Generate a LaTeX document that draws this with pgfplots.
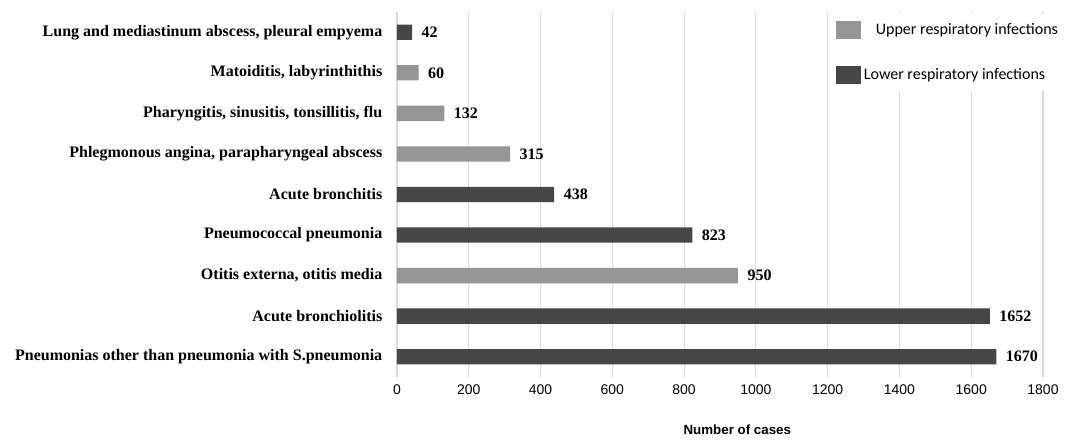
\documentclass[border=0pt]{standalone}
\usepackage{pgfplots}
\pgfplotsset{compat=1.18}
\usepackage{fontspec}
\setmainfont{Liberation Serif}
\setsansfont{Liberation Sans}
\newfontfamily\legfont{Carlito}
\definecolor{upper}{RGB}{150,150,150}
\definecolor{lower}{RGB}{70,70,70}
\definecolor{gridc}{RGB}{217,217,217}
\begin{document}
\begin{tikzpicture}[x=1pt,y=1pt]
\begin{axis}[
  scale only axis,
  width=484.5pt, height=273.75pt,
  xbar, bar width=11.5pt, bar shift=0pt,
  xmin=0, xmax=1800,
  ymin=-0.5, ymax=8.5,
  xtick={0,200,...,1800},
  ytick={0,...,8},
  yticklabels={Pneumonias other than pneumonia with S.pneumonia,
    Acute bronchiolitis, {Otitis externa, otitis media}, Pneumococcal pneumonia\hspace{3pt},
    Acute bronchitis, {Phlegmonous angina, parapharyngeal abscess},
    {Pharyngitis, sinusitis, tonsillitis, flu}, {Matoiditis, labyrinthithis\hspace{2pt}},
    {Lung and mediastinum abscess, pleural empyema\hspace{4pt}}},
  yticklabel style={font=\bfseries\fontsize{12}{14}\selectfont, xshift=-7.5pt},
  xticklabel style={font=\sffamily\fontsize{10.5}{12}\selectfont, yshift=-2pt},
  /pgf/number format/assume math mode=true,
  /pgf/number format/set thousands separator={},
  major tick length=0pt,
  axis line style={draw=none},
  xmajorgrids, grid style={gridc, line width=0.8pt},
  extra x ticks={0}, extra x tick labels={},
  extra x tick style={grid style={gridc, line width=0.8pt}},
  xlabel={Number of cases},
  xlabel style={font=\sffamily\bfseries\fontsize{10}{12}\selectfont, xshift=13pt, yshift=-16pt},
  nodes near coords,
  every node near coord/.append style={font=\bfseries\fontsize{12}{14}\selectfont, anchor=west, inner sep=0pt, xshift=7pt, text=black},
  legend style={at={(rel axis cs:0.679,0.995)}, anchor=north west, draw=none, fill=white,
    font=\legfont\fontsize{12}{14}\selectfont, row sep=20pt, inner xsep=0pt, inner ysep=5pt,
    cells={anchor=west}},
  legend image code/.code={\draw[#1, draw=none] (0pt,-6.5pt) rectangle (19pt,6.5pt);},
]
\addplot[fill=upper, draw=none] coordinates {(950,2) (315,5) (132,6) (60,7)};
\addplot[fill=lower, draw=none] coordinates {(1670,0) (1652,1) (823,3) (438,4) (42,8)};
\legend{\hspace{9pt}Upper respiratory infections, Lower respiratory infections}
\end{axis}
\useasboundingbox ([shift={(-297.75pt,-45.75pt)}]current axis.south west) rectangle ([shift={(18pt,9pt)}]current axis.north east);
\end{tikzpicture}
\end{document}
